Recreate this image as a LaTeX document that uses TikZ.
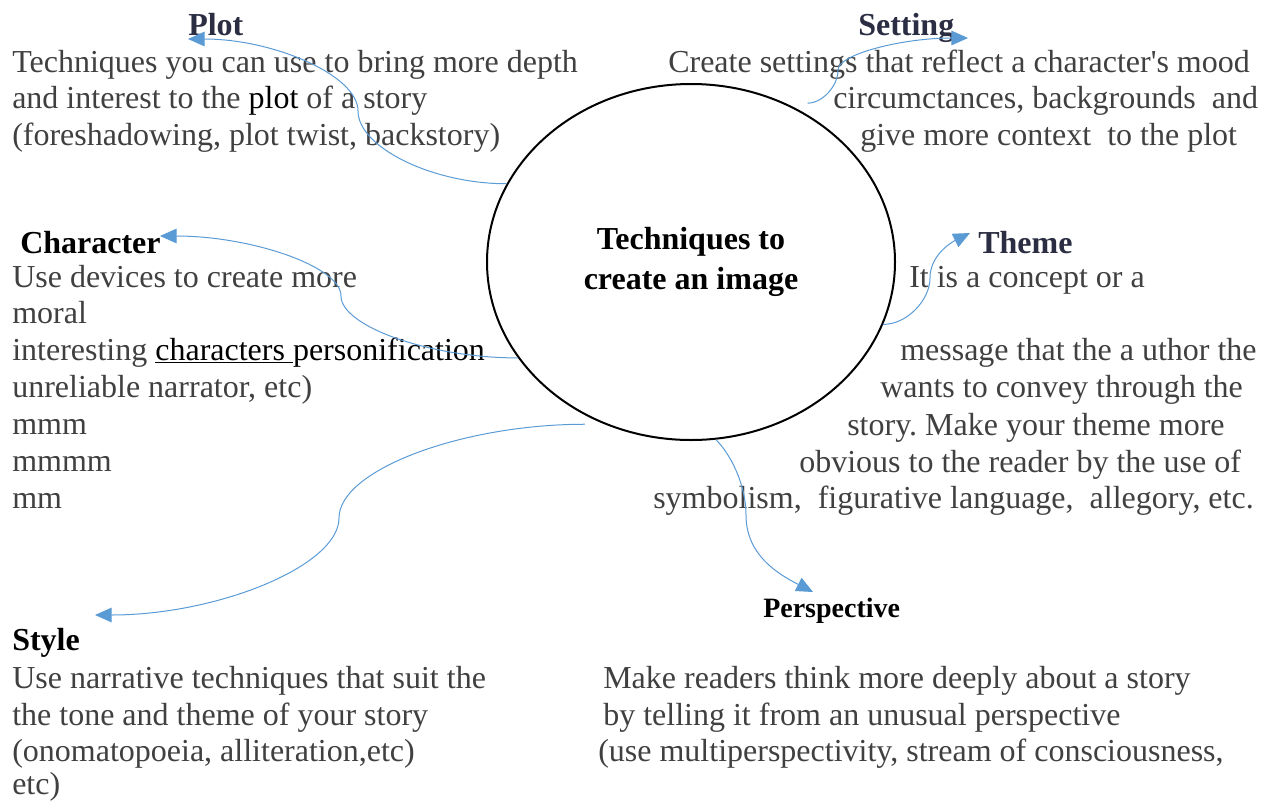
\documentclass[tikz,border=0pt]{standalone}
\usepackage{fontspec}
\setmainfont{Liberation Serif}
\usepackage{tikz}
\usetikzlibrary{arrows.meta,calc,shapes.geometric}
\definecolor{bodygray}{RGB}{64,64,64}
\definecolor{headnavy}{RGB}{43,45,66}
\definecolor{linkblue}{RGB}{91,155,213}
\frenchspacing

\begin{document}
\begin{tikzpicture}[x=0.75pt, y=-0.75pt,
  every node/.style={inner sep=0pt, anchor=base west, font=\fontsize{24}{28}\selectfont},
  txt/.style={text=bodygray},
  hd/.style={text=headnavy, font=\fontsize{24}{28}\selectfont\bfseries},
  hdk/.style={text=black, font=\fontsize{24}{28}\selectfont\bfseries},
  link/.style={draw=linkblue, line width=0.75pt, -{Triangle[length=12.5pt, width=11pt]}}]
\useasboundingbox (0,0) rectangle (1268,801);
\node[draw, ellipse, line width=1.5pt, minimum width=306pt, minimum height=267pt,
  anchor=center, align=center, font=\fontsize{24}{30}\selectfont\bfseries] (hub) at (691,262) {Techniques to\\create an image};
% plot
\node[hd] (plot-head) at (188,35) {Plot};
\node[txt] (plot-1) at (12,72) {Techniques you can use to bring more depth};
\node[txt] (plot-2) at (12,108) {and interest to the \textcolor{black}{plot} of a story};
\node[txt] (plot-3) at (12,145) {(foreshadowing, plot twist, backstory)};
% setting
\node[hd] (set-head) at (858,35) {Setting};
\node[txt] (set-1) at (668,72) {Create settings that reflect a character\textquotesingle s mood};
\node[txt] (set-2) at (833,108) {circumctances, backgrounds\ \ and};
\node[txt] (set-3) at (860,145) {give more context\ \ to the plot};
% character
\node[hdk] (char-head) at (20,253) {Character};
\node[txt] (char-1) at (12,287) {Use devices to create more};
\node[txt] (char-2) at (12,323) {moral};
\node[txt] (char-3) at (12,360) {interesting \textcolor{black}{\underline{characters }personification}};
\node[txt] (char-4) at (12,397) {unreliable narrator, etc)};
\node[txt] (char-5) at (12,434) {mmm};
\node[txt] (char-6) at (12,471) {mmmm};
\node[txt] (char-7) at (12,508) {mm};
% theme
\node[hd] (theme-head) at (978,253) {Theme};
\node[txt] (theme-1) at (909,287) {It is a concept or a};
\node[txt] (theme-2) at (900,360) {message that the a uthor the};
\node[txt] (theme-3) at (880,397) {wants to convey through the};
\node[txt] (theme-4) at (847,435) {story. Make your theme more};
\node[txt] (theme-5) at (799,472) {obvious to the reader by the use of};
\node[txt] (theme-6) at (653,508) {symbolism,\ \ figurative language,\ \ allegory, etc.};
% perspective
\node[hdk, font=\fontsize{21}{25}\selectfont\bfseries] (persp-head) at (763,617) {Perspective};
\node[txt] (persp-1) at (603,688) {Make readers think more deeply about a story};
\node[txt] (persp-2) at (603,725) {by telling it from an unusual perspective};
\node[txt] (persp-3) at (598,761) {(use multiperspectivity, stream of consciousness,};
% style
\node[hdk] (style-head) at (12,650) {Style};
\node[txt] (style-1) at (12,688) {Use narrative techniques that suit the};
\node[txt] (style-2) at (12,725) {the tone and theme of your story};
\node[txt] (style-3) at (12,761) {(onomatopoeia, alliteration,etc)};
\node[txt] (style-4) at (12,794) {etc)};
% arrow ends
\coordinate (plot-tip) at (188,39);
\coordinate (set-tip) at (968,38);
\coordinate (char-tip) at (160,236);
\coordinate (theme-tip) at (970,233);
\coordinate (style-tip) at (95,615);
\coordinate (persp-tip) at (813,592);
\draw[link] (hub.157) .. controls +(-75,0) and +(0,36) .. (358,111) .. controls +(0,-36) and +(85,0) .. (plot-tip);
\draw[link] ($(hub.52)+(1,-11)$) .. controls +(15,0) and +(0,16) .. (838,70) .. controls +(0,-16) and +(-65,0) .. (set-tip);
\draw[link] (hub.209) .. controls +(-89,0) and +(0,30) .. (341,296) .. controls +(0,-30) and +(90,0) .. (char-tip);
\draw[link] (hub.342) .. controls +(24,0) and +(0,22) .. (930,278) .. controls +(0,-22) and +(-20,10) .. (theme-tip);
\draw[link] ($(hub.236)+(-2,8)$) .. controls +(-123,0) and +(0,-48) .. (339,518) .. controls +(0,48) and +(122,0) .. (style-tip);
\draw[link] (hub.278) .. controls +(15,15) and +(0,-30) .. (746,515) .. controls +(0,40) and +(-35,-18) .. (persp-tip);
\end{tikzpicture}
\end{document}
